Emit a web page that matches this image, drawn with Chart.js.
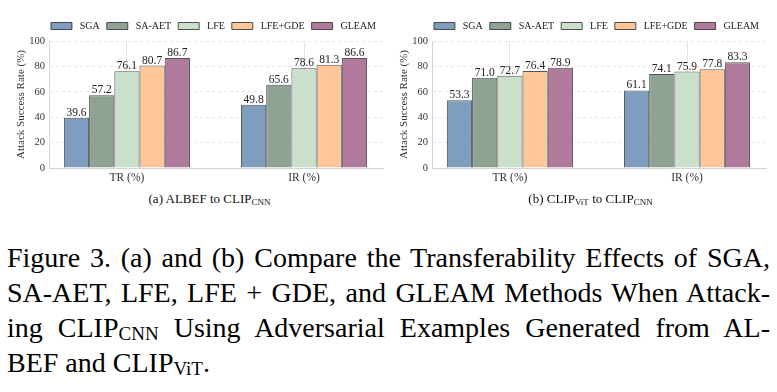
<!DOCTYPE html>
<html>
<head>
<meta charset="utf-8">
<script src="https://cdn.jsdelivr.net/npm/chart.js@4.4.1/dist/chart.umd.min.js"></script>
<style>
  body {
    margin: 0;
    width: 777px;
    height: 392px;
    background: #fff;
    overflow: hidden;
    position: relative;
    font-family: 'Liberation Serif', 'Times New Roman', serif;
    color: #000;
  }
  .chart-box { position: absolute; top: 0; width: 388px; height: 186px; }
  .sub {
    position: absolute;
    top: 191px;
    font-size: 13px;
    line-height: 16px;
    text-align: center;
    color: #111;
  }
  .sub sub { font-size: 9px; vertical-align: -2px; line-height: 0; }
  .caption {
    position: absolute;
    left: 7px;
    top: 240px;
    width: 763px;
    font-size: 28px;
    line-height: 35px;
  }
  .caption .jl { text-align: justify; text-align-last: justify; }
  .caption sub { font-size: 19px; vertical-align: -3px; line-height: 0; }
</style>
</head>
<body>
<div class="chart-box" style="left:0"><canvas id="chartA"></canvas></div>
<div class="chart-box" style="left:383px"><canvas id="chartB"></canvas></div>
<div class="sub" style="left:0; width:419px">(a) ALBEF to CLIP<sub>CNN</sub></div>
<div class="sub" style="left:383px; width:415px">(b) CLIP<sub>ViT</sub> to CLIP<sub>CNN</sub></div>

<div class="caption">
  <div class="jl">Figure 3. (a) and (b) Compare the Transferability Effects of SGA,</div>
  <div class="jl">SA-AET, LFE, LFE + GDE, and GLEAM Methods When Attack-</div>
  <div class="jl">ing CLIP<sub>CNN</sub> Using Adversarial Examples Generated from AL-</div>
  <div>BEF and CLIP<sub>ViT</sub>.</div>
</div>

<script>
const categories = ['TR (%)', 'IR (%)'];
const methods = ['SGA', 'SA-AET', 'LFE', 'LFE+GDE', 'GLEAM'];
const methodColors = ['#7f9dbe', '#8fa394', '#cbe0cb', '#fec699', '#b07a9d'];

// (a) ALBEF -> CLIP_CNN, one value per method
const albefTR = [39.6, 57.2, 76.1, 80.7, 86.7];
const albefIR = [49.8, 65.6, 78.6, 81.3, 86.6];

// (b) CLIP_ViT -> CLIP_CNN
const vitTR = [53.3, 71.0, 72.7, 76.4, 78.9];
const vitIR = [61.1, 74.1, 75.9, 77.8, 83.3];

const yTicks = [0, 20, 40, 60, 80, 100];

const serif = "'Liberation Serif', 'Times New Roman', serif";
Chart.defaults.font.family = serif;

// draws the numbers on top of every bar
const valueLabels = {
    id: 'valueLabels',
    afterDatasetsDraw(chart) {
        const ctx = chart.ctx;
        ctx.save();
        ctx.font = '11.5px ' + serif;
        ctx.fillStyle = '#222';
        ctx.textAlign = 'center';
        ctx.textBaseline = 'alphabetic';
        chart.data.datasets.forEach((ds, i) => {
            chart.getDatasetMeta(i).data.forEach((bar, j) => {
                ctx.fillText(ds.data[j].y.toFixed(1), bar.x, bar.y - 2);
            });
        });
        ctx.restore();
    }
};

function makeChart(id, trValues, irValues) {
    const groups = [trValues, irValues];
    const ctx = document.getElementById(id).getContext('2d');
    return new Chart(ctx, {
        type: 'bar',
        data: {
            datasets: methods.map((m, i) => ({
                label: m,
                data: categories.map((c, j) => ({ x: j, y: groups[j][i] })),
                backgroundColor: methodColors[i],
                borderColor: 'rgba(40,40,40,0.8)',
                borderWidth: 1,
                categoryPercentage: 0.712,
                barPercentage: 1
            }))
        },
        options: {
            responsive: true,
            maintainAspectRatio: false,
            animation: false,
            layout: { padding: { top: 14, right: 5, left: 0, bottom: 0 } },
            plugins: {
                legend: {
                    position: 'top',
                    align: 'end',
                    maxHeight: 27,
                    labels: {
                        boxWidth: 21,
                        boxHeight: 7,
                        padding: 7,
                        color: '#222',
                        font: { size: 10, family: serif },
                        // a little extra room between the swatch and its text
                        generateLabels: chart => Chart.defaults.plugins.legend.labels.generateLabels(chart)
                            .map(item => Object.assign(item, { text: '\u2009\u200A' + item.text }))
                    }
                },
                tooltip: { enabled: false }
            },
            scales: {
                x: {
                    type: 'linear',
                    min: -0.44,
                    max: 1.446,
                    offset: false,
                    afterBuildTicks: s => { s.ticks = categories.map((c, i) => ({ value: i })); },
                    afterFit: s => { s.height = 18; },
                    ticks: {
                        callback: v => categories[v],
                        color: '#333',
                        padding: 3,
                        maxRotation: 0,
                        autoSkip: false,
                        font: { size: 11.5, family: serif }
                    },
                    grid: { offset: false, color: '#e2e2e2', drawTicks: false },
                    border: { color: '#d4d4d4' }
                },
                y: {
                    min: 0,
                    max: 100,
                    afterBuildTicks: s => { s.ticks = yTicks.map(v => ({ value: v })); },
                    afterFit: s => { s.width = 49; },
                    ticks: {
                        color: '#333',
                        padding: 4,
                        font: { size: 10.5, family: serif }
                    },
                    grid: { color: '#e6e6e6', drawTicks: false },
                    border: { color: '#d4d4d4', dash: [3, 3] },
                    title: {
                        display: true,
                        text: 'Attack Success Rate (%)',
                        color: '#333',
                        font: { size: 11, family: serif },
                        padding: { top: 15, bottom: 0 }
                    }
                }
            }
        },
        plugins: [valueLabels]
    });
}

makeChart('chartA', albefTR, albefIR);
makeChart('chartB', vitTR, vitIR);
</script>
</body>
</html>
